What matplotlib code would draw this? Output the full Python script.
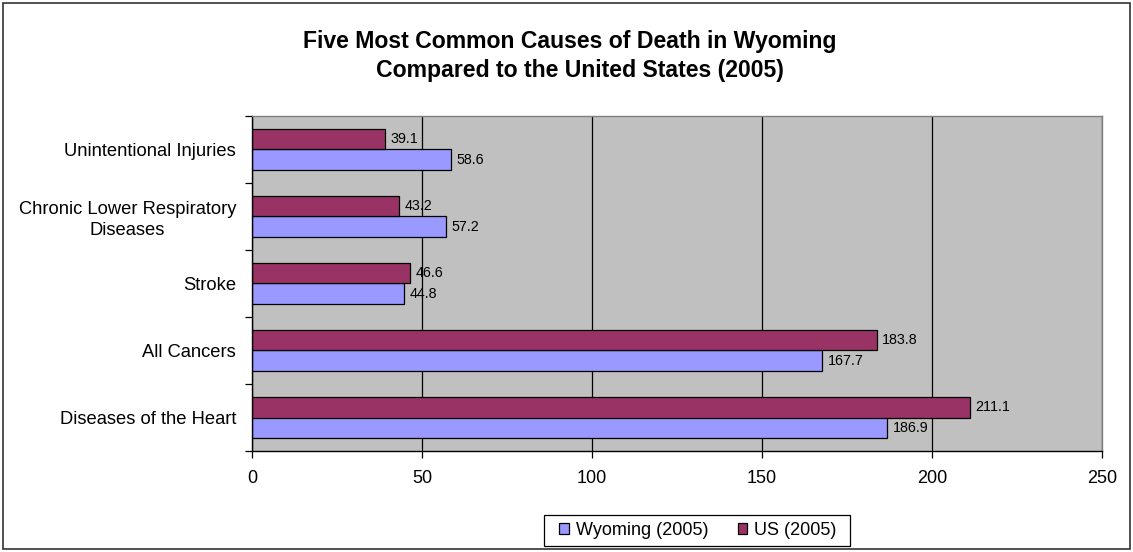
import matplotlib
matplotlib.use("Agg")
import matplotlib.pyplot as plt
import numpy as np
from matplotlib.patches import Rectangle

plt.rcParams['font.family'] = ['Liberation Sans', 'DejaVu Sans']

categories = ["Diseases of the Heart", "All Cancers", "Stroke",
              "Chronic Lower Respiratory\nDiseases", "Unintentional Injuries"]
wyoming = [186.9, 167.7, 44.8, 57.2, 58.6]
us = [211.1, 183.8, 46.6, 43.2, 39.1]
series_names = ["Wyoming (2005)", "US (2005)"]
x_ticks = [0, 50, 100, 150, 200, 250]

W, H = 1133, 552
fig = plt.figure(figsize=(W / 100, H / 100), dpi=100)
fig.patches.append(Rectangle((0.003, 0.005), 0.994, 0.99, transform=fig.transFigure,
                             fill=False, edgecolor="#333333", linewidth=1.2))

ax = fig.add_axes([252/W, 1-451/H, (1102-252)/W, (451-116)/H])
ax.set_facecolor("#C0C0C0")

y = np.arange(len(categories))
h = 0.3
wy_bars = ax.barh(y - h/2, wyoming, height=h, color="#9999FF", edgecolor="black", linewidth=0.9)
us_bars = ax.barh(y + h/2, us, height=h, color="#993366", edgecolor="black", linewidth=0.9)

for bars, vals in ((wy_bars, wyoming), (us_bars, us)):
    for b, v in zip(bars, vals):
        ax.text(v + 1.6, b.get_y() + b.get_height()/2, f"{v:.1f}",
                va="center", ha="left", fontsize=10.3)

ax.set_xlim(0, 250)
ax.set_ylim(-0.5, len(categories) - 0.5)
ax.set_xticks(x_ticks)
ax.set_xticklabels([str(t) for t in x_ticks], fontsize=13)
ax.tick_params(axis="x", direction="out", length=5, pad=9, width=0.9)
ax.xaxis.grid(True, color="black", linewidth=0.9)
ax.set_axisbelow(True)

ax.set_yticks(y)
ax.set_yticklabels(categories, fontsize=13.2)
ax.set_yticks(np.arange(-0.5, len(categories)), minor=True)
ax.tick_params(axis="y", which="major", length=0, pad=11.5)
ax.tick_params(axis="y", which="minor", direction="out", length=5, width=0.9)
for lbl in ax.get_yticklabels():
    lbl.set_multialignment("center")
    lbl.set_linespacing(1.3)

for side in ("top", "right"):
    ax.spines[side].set_color("#808080")
    ax.spines[side].set_linewidth(1.0)
for side in ("left", "bottom"):
    ax.spines[side].set_color("black")
    ax.spines[side].set_linewidth(1.0)

# two-line title
fig.text(570/W, 1-48/H, "Five Most Common Causes of Death in Wyoming",
         ha="center", va="baseline", fontsize=16.6, fontweight="bold")
fig.text(580/W, 1-77/H, "Compared to the United States (2005)",
         ha="center", va="baseline", fontsize=16.6, fontweight="bold")

# legend with a hand-sized frame
leg = fig.legend([wy_bars, us_bars], series_names, loc="center",
                 bbox_to_anchor=(698/W, 1-530.5/H), ncol=2, fontsize=13,
                 frameon=False,
                 handlelength=0.55, handleheight=0.55, handletextpad=0.38,
                 columnspacing=1.6, borderpad=0.3)
fig.patches.append(Rectangle((544/W, 1-546/H), (850-544)/W, 31/H, transform=fig.transFigure,
                             fill=False, edgecolor="black", linewidth=0.9))

fig.savefig("out.png", dpi=100)
